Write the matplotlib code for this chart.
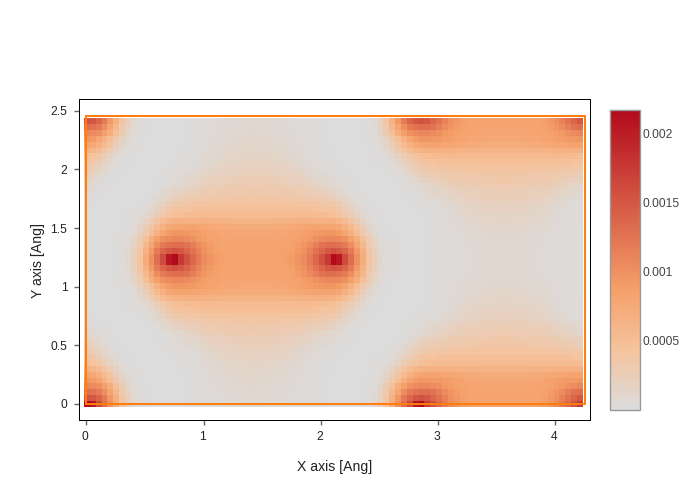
import matplotlib
matplotlib.use('Agg')

import numpy as np
import matplotlib.pyplot as plt
from matplotlib.colors import LinearSegmentedColormap, Normalize
from matplotlib.cm import ScalarMappable
from matplotlib.transforms import ScaledTranslation

plt.rcParams['font.family'] = ['Liberation Sans', 'DejaVu Sans']

W, H = 700, 500

# Density, in 1e-5 units. The map repeats, so this is one
# unique patch: grid rows 0-24 (bottom up), grid columns 28-49.
density_rows = [
    [8, 8, 8, 7, 7, 6, 5, 4, 3, 2, 2, 1, 1, 0, 0, 0, 0, 0, 0, 1, 4, 10],
    [8, 8, 8, 8, 7, 6, 5, 4, 3, 2, 2, 1, 1, 0, 0, 0, 0, 0, 0, 1, 3, 8],
    [9, 9, 8, 8, 7, 7, 6, 5, 4, 3, 2, 1, 1, 0, 0, 0, 0, 0, 0, 1, 3, 6],
    [10, 9, 9, 9, 8, 7, 6, 5, 4, 3, 2, 1, 1, 0, 0, 0, 0, 0, 0, 1, 2, 5],
    [11, 11, 10, 10, 9, 8, 7, 6, 5, 3, 2, 1, 1, 0, 0, 0, 0, 0, 0, 0, 1, 4],
    [12, 12, 12, 11, 10, 9, 8, 7, 5, 4, 2, 2, 1, 0, 0, 0, 0, 0, 0, 0, 1, 3],
    [14, 14, 13, 13, 12, 11, 10, 8, 6, 5, 3, 2, 1, 1, 0, 0, 0, 0, 0, 0, 0, 2],
    [16, 16, 15, 15, 14, 13, 11, 10, 8, 6, 4, 3, 2, 1, 0, 0, 0, 0, 0, 0, 0, 1],
    [18, 18, 18, 17, 16, 15, 14, 12, 10, 7, 5, 3, 2, 1, 1, 0, 0, 0, 0, 0, 0, 1],
    [21, 21, 20, 20, 19, 18, 17, 15, 13, 10, 8, 6, 4, 3, 2, 1, 0, 0, 0, 0, 0, 0],
    [24, 24, 24, 23, 22, 21, 20, 18, 17, 14, 11, 9, 7, 5, 4, 2, 1, 0, 0, 0, 0, 0],
    [27, 27, 27, 26, 25, 24, 23, 22, 21, 18, 15, 13, 10, 8, 6, 4, 2, 1, 0, 0, 0, 0],
    [30, 30, 30, 29, 28, 28, 27, 26, 26, 22, 19, 17, 14, 11, 9, 6, 3, 1, 0, 0, 0, 0],
    [34, 34, 33, 33, 32, 32, 31, 31, 30, 28, 26, 24, 22, 19, 17, 11, 7, 3, 1, 0, 0, 0],
    [38, 38, 38, 37, 37, 36, 36, 35, 34, 33, 31, 30, 28, 26, 24, 18, 12, 7, 3, 1, 0, 0],
    [42, 42, 42, 42, 42, 42, 41, 41, 41, 40, 39, 38, 36, 34, 32, 26, 19, 12, 6, 2, 1, 0],
    [47, 47, 47, 47, 47, 47, 47, 47, 47, 47, 46, 45, 44, 42, 40, 35, 27, 18, 10, 5, 2, 0],
    [53, 53, 53, 53, 53, 53, 53, 53, 54, 54, 54, 53, 52, 50, 48, 44, 36, 27, 17, 9, 4, 1],
    [62, 62, 62, 62, 62, 63, 64, 64, 65, 66, 66, 66, 66, 65, 63, 59, 51, 40, 28, 16, 8, 3],
    [72, 72, 72, 72, 73, 73, 74, 75, 76, 78, 80, 81, 82, 82, 80, 76, 66, 54, 40, 25, 13, 5],
    [77, 77, 77, 77, 78, 78, 79, 81, 83, 86, 89, 92, 94, 95, 95, 90, 80, 66, 50, 33, 19, 8],
    [80, 80, 80, 80, 80, 80, 81, 83, 85, 89, 94, 100, 105, 108, 108, 105, 100, 86, 68, 48, 28, 14],
    [81, 81, 81, 81, 81, 81, 82, 85, 90, 96, 105, 115, 125, 130, 130, 127, 118, 102, 80, 57, 33, 18],
    [82, 82, 82, 82, 82, 83, 84, 87, 93, 100, 112, 125, 138, 150, 155, 150, 138, 118, 92, 65, 38, 21],
    [82, 82, 82, 82, 82, 84, 86, 90, 97, 105, 118, 135, 155, 175, 217, 205, 160, 130, 100, 70, 42, 24],
]
density_scale = 1e-5

n_cols, n_rows = 85, 49
cell_a, cell_b = 4.26, 2.46  # cell outline, Ang

box_x = [0, cell_a, cell_a, 0, 0]
box_y = [0, 0, cell_b, cell_b, 0]

xticks = [0, 1, 2, 3, 4]
yticks = [0, 0.5, 1, 1.5, 2, 2.5]
ytick_labels = ['0', '0.5', '1', '1.5', '2', '2.5']
cbar_ticks = [0.0005, 0.001, 0.0015, 0.002]
cbar_labels = ['0.0005', '0.001', '0.0015', '0.002']

reds = [(0, (220/255, 220/255, 220/255)),
        (0.2, (245/255, 195/255, 157/255)),
        (0.4, (245/255, 160/255, 105/255)),
        (1, (178/255, 10/255, 28/255))]


def unfold(patch):
    """ Fill the whole grid from the unique patch (mirrors + half cell shift). """
    z = np.zeros((n_rows, n_cols))
    for r in range(n_rows):
        for c in range(n_cols):
            rr = r if r <= 24 else 49 - r
            cc = c
            if cc < 28:
                cc = int(round(56.67 - cc))
            elif cc > 71:
                cc = int(round(141.67 - cc))
            if cc > 49:
                cc = int(round(99.17 - cc))
                rr = 24 - rr
            z[r, c] = patch[rr, cc - 28]
    return z


def px_axes(fig, left, top, right, bottom):
    return fig.add_axes([left / W, 1 - bottom / H, (right - left) / W, (bottom - top) / H])


z = unfold(np.array(density_rows)) * density_scale
cmap = LinearSegmentedColormap.from_list('plotly_reds', reds)
norm = Normalize(vmin=0, vmax=z.max())

fig = plt.figure(figsize=(W / 100, H / 100), dpi=100)
ax = px_axes(fig, 78.7, 98.9, 589.8, 419.7)

dx = cell_a / n_cols
dy = cell_b / n_rows
ax.imshow(z, origin='lower', cmap=cmap, norm=norm, interpolation='nearest', aspect='auto',
          extent=(-dx / 2, cell_a - dx / 2, -dy / 2, cell_b - dy / 2))
ax.plot(box_x, box_y, color='#ff7f0e', lw=1.45, solid_joinstyle='miter')

ax.set_xlim(-0.0666, 4.298)
ax.set_ylim(-0.137, 2.603)
ax.set_xticks(xticks)
ax.set_xticklabels([str(t) for t in xticks])
ax.set_yticks(yticks)
ax.set_yticklabels(ytick_labels)
ax.tick_params(length=3.6, width=1.0, color='#666666', labelcolor='#222222', labelsize=8.64, pad=4.5)
for s in ax.spines.values():
    s.set_linewidth(0.72)
    s.set_color('black')

# tick text sits a bit left of its tick in the reference
shift = ScaledTranslation(-1.3 / 100, 0, fig.dpi_scale_trans)
for lab in ax.get_xticklabels():
    lab.set_transform(lab.get_transform() + shift)

fig.text(335 / W, 1 - 467.5 / H, 'X axis [Ang]', ha='center', va='center', fontsize=10.1, color='#222222')
fig.text(38 / W, 1 - 260 / H, 'Y axis [Ang]', ha='center', va='center', rotation=90, fontsize=10.1, color='#222222')

# Colorbar
cax = px_axes(fig, 609.5, 109.7, 639.7, 409.7)
cb = fig.colorbar(ScalarMappable(norm=norm, cmap=cmap), cax=cax)
cb.set_ticks(cbar_ticks)
cb.set_ticklabels(cbar_labels)
cb.ax.tick_params(length=0, labelsize=8.64, labelcolor='#444444', pad=2)
cb.outline.set_edgecolor('#999999')
cb.outline.set_linewidth(1.0)

plt.savefig('out.png', dpi=100)
